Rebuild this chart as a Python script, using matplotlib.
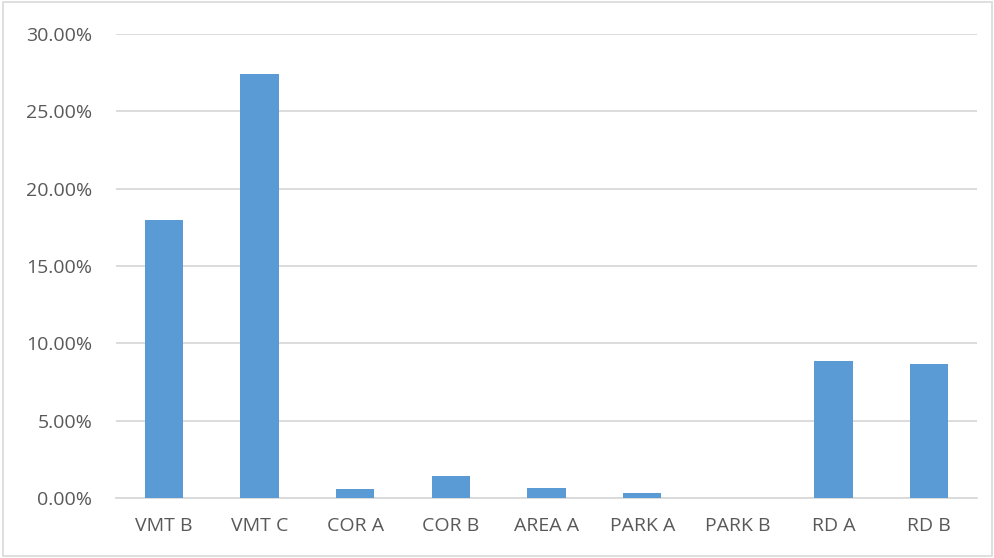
import matplotlib.pyplot as plt
from matplotlib.patches import Rectangle
from matplotlib.ticker import FuncFormatter, MultipleLocator

categories = ["VMT B", "VMT C", "COR A", "COR B", "AREA A", "PARK A", "PARK B", "RD A", "RD B"]
shares = [17.98, 27.42, 0.60, 1.44, 0.66, 0.34, 0.0, 8.84, 8.64]  # percent

bar_color = "#5B9BD5"
text_color = "#595959"
grid_color = "#D9D9D9"

plt.rcParams["font.family"] = ["Open Sans", "DejaVu Sans"]

fig = plt.figure(figsize=(9.95, 5.58), dpi=100)
ax = fig.add_axes([0.1166, 0.1075, 0.8654, 0.8315])

x = range(len(categories))
ax.bar(x, shares, width=0.4, color=bar_color, zorder=3)

ax.set_xlim(-0.5, len(categories) - 0.5)
ax.set_ylim(0, 30)
ax.yaxis.set_major_locator(MultipleLocator(5))
ax.yaxis.set_major_formatter(FuncFormatter(lambda v, _: f"{v:.2f}%"))
ax.set_xticks(list(x))
ax.set_xticklabels(categories)

ax.grid(axis="y", color=grid_color, linewidth=1.3, zorder=0)
for side in ["top", "right", "left"]:
    ax.spines[side].set_visible(False)
ax.spines["bottom"].set_color(grid_color)
ax.spines["bottom"].set_linewidth(1.3)
ax.tick_params(axis="both", length=0, labelsize=14, colors=text_color)
ax.tick_params(axis="x", pad=14)
ax.tick_params(axis="y", pad=17)

# thin frame around the whole chart
fig.patches.append(Rectangle((0.003, 0.003), 0.994, 0.994, transform=fig.transFigure,
                             fill=False, edgecolor=grid_color, linewidth=1.2))

fig.savefig("out.png", dpi=100)
